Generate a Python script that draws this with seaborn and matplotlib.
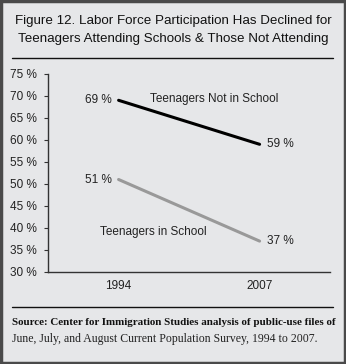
import matplotlib
matplotlib.use("Agg")
import matplotlib.pyplot as plt
import seaborn as sns
import pandas as pd
from matplotlib.patches import Rectangle
from matplotlib.lines import Line2D

years = ["1994", "2007"]
not_in_school = [69, 59]
in_school = [51, 37]
series_names = ["Teenagers Not in School", "Teenagers in School"]
yticks = [30, 35, 40, 45, 50, 55, 60, 65, 70, 75]

df = pd.DataFrame({
    "year": years * 2,
    "value": not_in_school + in_school,
    "series": [series_names[0]] * 2 + [series_names[1]] * 2,
})

bg = "#e6e7e9"
sns.set_style("white")
plt.rcParams["font.family"] = ["Liberation Sans", "DejaVu Sans"]

fig = plt.figure(figsize=(3.46, 3.64), dpi=100, facecolor=bg)
ax = fig.add_axes([0.139, 0.253, 0.815, 0.544])
ax.set_facecolor(bg)

sns.lineplot(data=df, x="year", y="value", hue="series",
             palette={series_names[0]: "#000000", series_names[1]: "#999999"},
             linewidth=2.2, legend=False, ax=ax, sort=False)

ax.set_xlim(-0.5, 1.5)
ax.set_ylim(30, 75)
ax.set_yticks(yticks)
ax.set_yticklabels([f"{v} %" for v in yticks], fontsize=8.5, color="#222222")
ax.set_xticks([0, 1])
ax.set_xticklabels(years, fontsize=8.5, color="#222222")
ax.set_xticks([0.5], minor=True)
ax.tick_params(axis="x", which="major", length=0, pad=6)
ax.tick_params(axis="x", which="minor", length=3, direction="in", color="#333333")
ax.tick_params(axis="y", length=3, direction="out", pad=5, color="#333333", left=True)
ax.set_xlabel("")
ax.set_ylabel("")
for s in ["top", "right"]:
    ax.spines[s].set_visible(False)
for s in ["left", "bottom"]:
    ax.spines[s].set_color("#333333")
    ax.spines[s].set_linewidth(1.0)

lab_kw = dict(fontsize=8.5, color="#222222", va="center")
ax.annotate(f"{not_in_school[0]} %", (0, not_in_school[0]), xytext=(-5, 0),
            textcoords="offset points", ha="right", **lab_kw)
ax.annotate(f"{not_in_school[1]} %", (1, not_in_school[1]), xytext=(5, 0),
            textcoords="offset points", ha="left", **lab_kw)
ax.annotate(f"{in_school[0]} %", (0, in_school[0]), xytext=(-5, 0),
            textcoords="offset points", ha="right", **lab_kw)
ax.annotate(f"{in_school[1]} %", (1, in_school[1]), xytext=(5, 0),
            textcoords="offset points", ha="left", **lab_kw)
ax.text(0.68, 69.3, series_names[0], ha="center", **lab_kw)
ax.text(0.245, 39.0, series_names[1], ha="center", **lab_kw)

fig.text(0.5, 0.942, "Figure 12. Labor Force Participation Has Declined for",
         ha="center", va="center", fontsize=9.6, color="#111111")
fig.text(0.5, 0.893, "Teenagers Attending Schools & Those Not Attending",
         ha="center", va="center", fontsize=9.6, color="#111111")
fig.add_artist(Line2D([0.035, 0.962], [0.841, 0.841], color="#111111", lw=1.0))
fig.add_artist(Line2D([0.035, 0.962], [0.157, 0.157], color="#111111", lw=1.0))

fig.text(0.035, 0.113, "Source: Center for Immigration Studies analysis of public-use files of",
         ha="left", va="center", fontsize=7.95, family="Liberation Serif", weight="bold",
         color="#111111")
fig.text(0.035, 0.070, "June, July, and August Current Population Survey, 1994 to 2007.",
         ha="left", va="center", fontsize=8.5, family="Liberation Serif", color="#222222")

fig.add_artist(Rectangle((0.003, 0.003), 0.994, 0.994, transform=fig.transFigure,
                         fill=False, edgecolor="#4a4a4a", lw=2.5))

fig.savefig("out.png", dpi=100, facecolor=bg)
